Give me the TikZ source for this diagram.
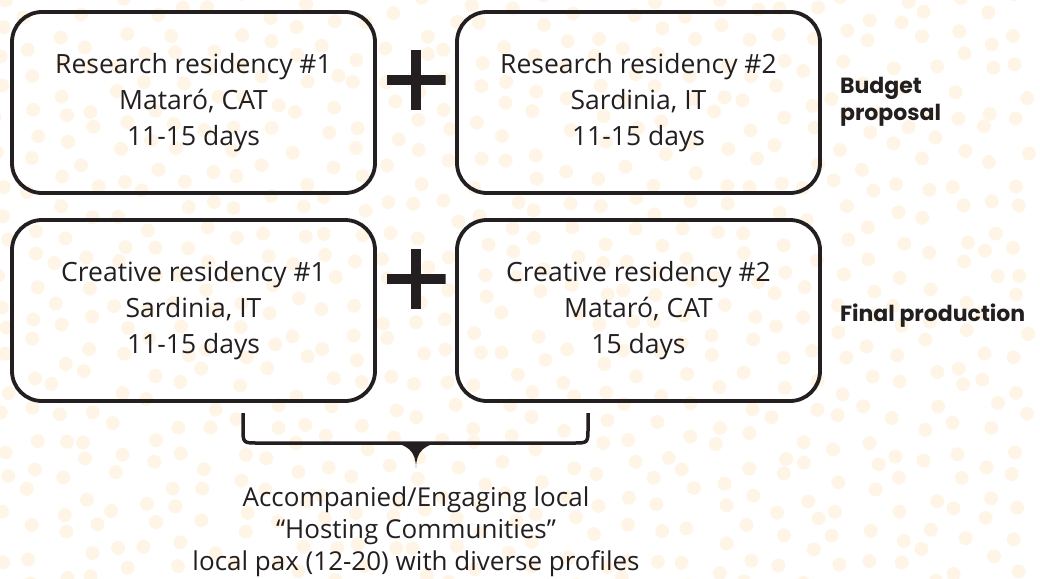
\documentclass[tikz,border=0pt]{standalone}
\usepackage{fontspec}
\setmainfont{Open Sans}
\newfontfamily\tagfont{Poppins}
\usepackage{tikz}
\usetikzlibrary{positioning}

\definecolor{ink}{HTML}{231F20}
\definecolor{dots}{HTML}{FFF5E6}

\begin{document}
\begin{tikzpicture}[x=1pt, y=-1pt, box/.style={
						rectangle,
						rounded corners=30pt,
						draw=ink, line width=3.8pt,
						minimum width=363pt, minimum height=181pt,
						inner sep=0pt,
						text=ink, align=center,
						font=\fontsize{26.5}{36}\selectfont,
					},
					plus/.style={minimum width=59pt, minimum height=60pt, inner sep=0pt,
						path picture={
							\fill[ink] ([yshift=-5pt]path picture bounding box.west) rectangle ([yshift=5pt]path picture bounding box.east);
							\fill[ink] ([xshift=-4.8pt]path picture bounding box.south) rectangle ([xshift=4.8pt]path picture bounding box.north);
						}},
					tag/.style={text=ink, align=left, inner sep=0pt, font=\tagfont\bfseries\fontsize{22}{27}\selectfont},
					]
					\useasboundingbox (0,0) rectangle (1040,578);
					% background pattern
					\pgfmathsetseed{11}
					\foreach \i in {0,...,34} {
						\foreach \j in {0,...,19} {
							\pgfmathsetmacro\px{\i*30+rand*9}
							\pgfmathsetmacro\py{\j*30+rand*9+mod(\i,2)*15}
							\fill[dots] (\px,\py) circle[radius=7];
						}
					}
					\node[box] (A) at (193.5,102.5) {Research residency \#1\\Mataró, CAT\\11-15 days};
					\node[box, right of = A, node distance = 445pt] (B) {Research residency \#2\\Sardinia, IT\\11-15 days};
					\node[box, below of = A, node distance = 208pt] (C) {Creative residency \#1\\Sardinia, IT\\11-15 days};
					\node[box, right of = C, node distance = 445pt] (D) {Creative residency \#2\\Mataró, CAT\\15 days};
					\node[plus, right of = A, node distance = 222.5pt, yshift = 22.5pt] (P1) {};
					\node[plus, right of = C, node distance = 222.5pt, yshift = 31.5pt] (P2) {};
					\node[tag, right = 18pt of B, yshift = 1pt] (L1) {Budget\\proposal};
					\node[tag, right = 18pt of D, yshift = -5pt] (L2) {Final production};
					
					% brace under the creative residencies
					\coordinate (BL) at (243,413);
					\coordinate (BR) at (588,413);
					\coordinate (T) at (416,468);
					\draw[ink, line width=3.5pt] (BL) -- (243,428) .. controls (243,443) .. (258,443) -- (573,443) .. controls (588,443) .. (588,428) -- (BR);
					\fill[ink] (386,442) .. controls (408,443) and (416,452) .. (T) .. controls (416,452) and (424,443) .. (446,442) -- cycle;
					\node[below = 19pt of T, inner sep=0pt, text=ink, align=center, font=\fontsize{26}{32}\selectfont] (H) {Accompanied/Engaging local\\“Hosting Communities”\\local pax (12-20) with diverse profiles};
					\end{tikzpicture}
\end{document}
